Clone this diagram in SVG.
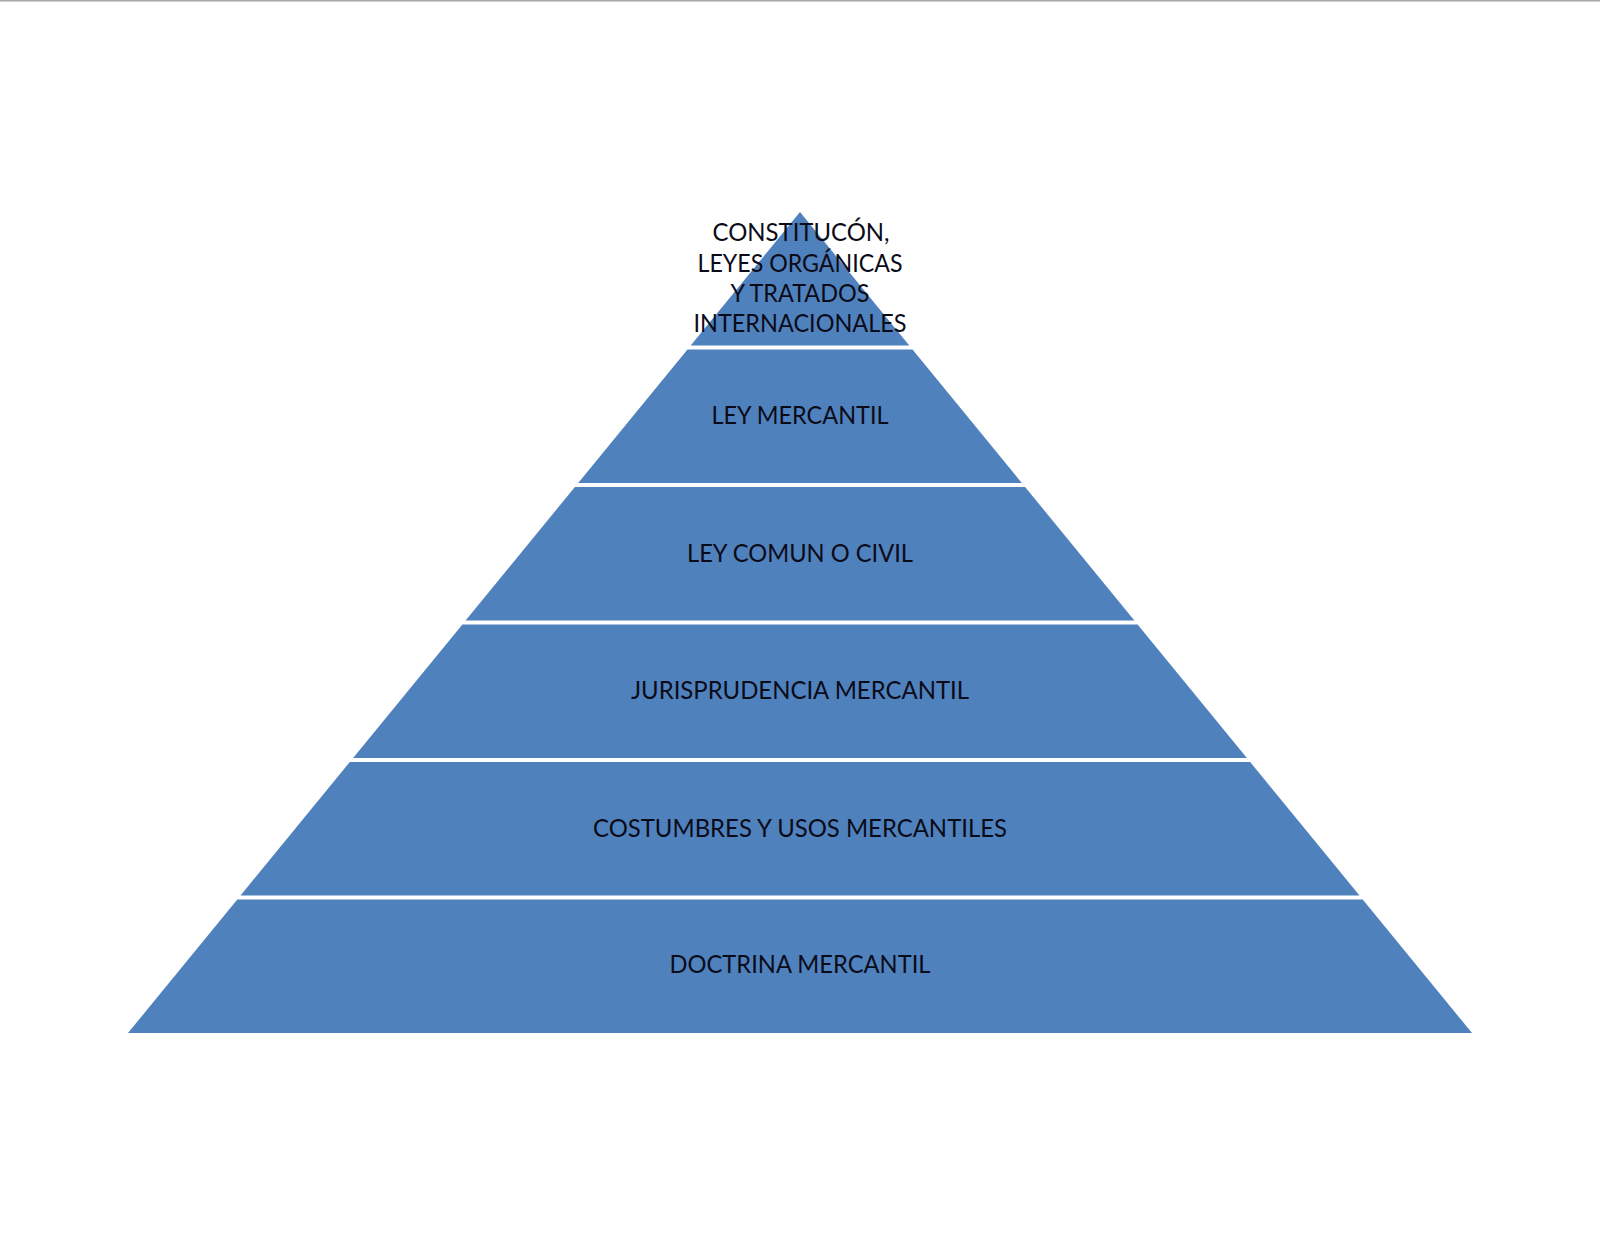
<svg xmlns="http://www.w3.org/2000/svg" width="1600" height="1236" viewBox="0 0 1600 1236">
<style>
.layer{fill:#4F81BD;}
.lbl{font-family:Lato,"Open Sans","Liberation Sans",sans-serif;font-size:25px;fill:#0b0b18;text-anchor:middle;}
</style>
<rect x="0" y="0" width="1600" height="1236" fill="#ffffff"/>
<rect x="0" y="0" width="1600" height="1.5" fill="#a6a6a6"/>
<g id="connectors"></g>
<g id="node-doctrina">
<polygon class="layer" points="237.3,899.5 1362.7,899.5 1472,1033 128,1033"/>
<text class="lbl" x="800" y="972.5" textLength="261" lengthAdjust="spacingAndGlyphs">DOCTRINA MERCANTIL</text>
</g>
<g id="node-costumbres">
<polygon class="layer" points="349.8,762 1250.2,762 1359.5,895.5 240.5,895.5"/>
<text class="lbl" x="800" y="836.5" textLength="414" lengthAdjust="spacingAndGlyphs">COSTUMBRES Y USOS MERCANTILES</text>
</g>
<g id="node-jurisprudencia">
<polygon class="layer" points="462.4,624.5 1137.6,624.5 1246.9,758 353.1,758"/>
<text class="lbl" x="800" y="698.5" textLength="338" lengthAdjust="spacingAndGlyphs">JURISPRUDENCIA MERCANTIL</text>
</g>
<g id="node-ley-comun">
<polygon class="layer" points="574.9,487 1025.1,487 1134.4,620.5 465.6,620.5"/>
<text class="lbl" x="800" y="561.5" textLength="226" lengthAdjust="spacingAndGlyphs">LEY COMUN O CIVIL</text>
</g>
<g id="node-ley-mercantil">
<polygon class="layer" points="687.5,349.5 912.5,349.5 1021.8,483 578.2,483"/>
<text class="lbl" x="800" y="423.5" textLength="177" lengthAdjust="spacingAndGlyphs">LEY MERCANTIL</text>
</g>
<g id="node-constitucion">
<polygon class="layer" points="800,212 909.3,345.5 690.7,345.5"/>
<text class="lbl" x="801" y="241" textLength="177" lengthAdjust="spacingAndGlyphs">CONSTITUCÓN,</text>
<text class="lbl" x="800" y="271.5" textLength="205" lengthAdjust="spacingAndGlyphs">LEYES ORGÁNICAS</text>
<text class="lbl" x="800" y="302" textLength="139" lengthAdjust="spacingAndGlyphs">Y TRATADOS</text>
<text class="lbl" x="800" y="332" textLength="213" lengthAdjust="spacingAndGlyphs">INTERNACIONALES</text>
</g>
</svg>
